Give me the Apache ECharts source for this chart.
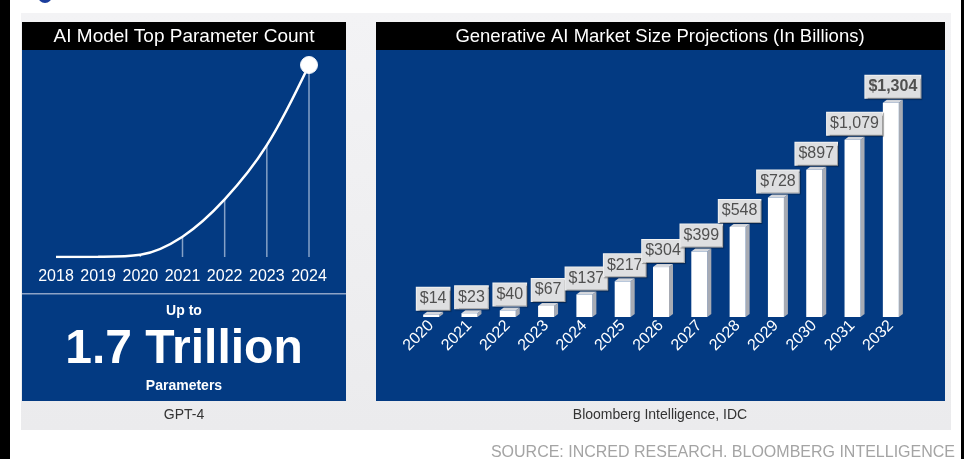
<!DOCTYPE html>
<html>
<head>
<meta charset="utf-8">
<script src="https://cdn.jsdelivr.net/npm/echarts@6/dist/echarts.min.js"></script>
<style>
  html, body { margin: 0; padding: 0; background: #ffffff; }
  #chart { width: 968px; height: 459px; }
</style>
</head>
<body>
<div id="chart"></div>
<script>
// Largest model size per year (billions of parameters)
const paramYears = ['2018', '2019', '2020', '2021', '2022', '2023', '2024'];
const paramBillions = [0.1, 1.5, 20, 180, 510, 990, 1700];

// Generative AI market size projections (US$ billions)
const marketYears = ['2020', '2021', '2022', '2023', '2024', '2025', '2026',
                     '2027', '2028', '2029', '2030', '2031', '2032'];
const marketSize = [14, 23, 40, 67, 137, 217, 304, 399, 548, 728, 897, 1079, 1304];

const FONT = '"Liberation Sans", Arial, Helvetica, sans-serif';
const BLUE = '#033a82';

const chart = echarts.init(document.getElementById('chart'), null, { renderer: 'canvas' });

// Side face and top cap that give each market bar its block look
function renderBlock(params, api) {
  const base = api.coord([api.value(0), 0]);
  const top = api.coord([api.value(0), api.value(1)]);
  const hw = 8, depth = 4, rise = 3;
  const x0 = top[0] - hw, x1 = top[0] + hw;
  return {
    type: 'group',
    children: [
      { type: 'polygon',
        shape: { points: [[x1, top[1]], [x1 + depth, top[1] - rise], [x1 + depth, base[1] - rise], [x1, base[1]]] },
        style: { fill: '#a7abb4' } },
      { type: 'polygon',
        shape: { points: [[x0, top[1]], [x0 + depth, top[1] - rise], [x1 + depth, top[1] - rise], [x1, top[1]]] },
        style: { fill: '#d6d9df' } }
    ]
  };
}

const graphics = [
  // page frame
  { type: 'rect', z: -20, shape: { x: 0, y: 0, width: 10, height: 459 }, style: { fill: '#000' } },
  { type: 'rect', z: -20, shape: { x: 961, y: 0, width: 3, height: 459 }, style: { fill: '#000' } },
  { type: 'circle', z: -20, shape: { cx: 45, cy: -4, r: 7 }, style: { fill: '#1b3d9c' } },
  // light card behind both panels
  { type: 'rect', z: -20, shape: { x: 21, y: 13, width: 930, height: 417 },
    style: { fill: new echarts.graphic.LinearGradient(0, 0, 0, 1, [
      { offset: 0, color: '#f3f3f5' }, { offset: 1, color: '#ebebed' }]) } },
  // left panel
  { type: 'rect', z: -10, shape: { x: 22, y: 22, width: 324, height: 28 }, style: { fill: '#000' } },
  { type: 'rect', z: -10, shape: { x: 22, y: 50, width: 324, height: 351 }, style: { fill: BLUE } },
  { type: 'rect', z: -9, shape: { x: 22, y: 293, width: 324, height: 1.5 }, style: { fill: '#8ea3c6' } },
  // right panel
  { type: 'rect', z: -10, shape: { x: 376, y: 22, width: 569, height: 28 }, style: { fill: '#000' } },
  { type: 'rect', z: -10, shape: { x: 376, y: 50, width: 569, height: 351 }, style: { fill: BLUE } },
  // titles and captions
  { type: 'text', z: 50, x: 184, y: 37,
    style: { text: 'AI Model Top Parameter Count', fill: '#fff', font: '19px ' + FONT,
             textAlign: 'center', textVerticalAlign: 'middle' } },
  { type: 'text', z: 50, x: 660, y: 37,
    style: { text: 'Generative AI Market Size Projections (In Billions)', fill: '#fff', font: '18.5px ' + FONT,
             textAlign: 'center', textVerticalAlign: 'middle' } },
  { type: 'text', z: 50, x: 184, y: 311,
    style: { text: 'Up to', fill: '#fff', font: 'bold 14px ' + FONT,
             textAlign: 'center', textVerticalAlign: 'middle' } },
  { type: 'text', z: 50, x: 184, y: 350,
    style: { text: '1.7 Trillion', fill: '#fff', font: 'bold 48px ' + FONT,
             textAlign: 'center', textVerticalAlign: 'middle' } },
  { type: 'text', z: 50, x: 184, y: 386,
    style: { text: 'Parameters', fill: '#fff', font: 'bold 14px ' + FONT,
             textAlign: 'center', textVerticalAlign: 'middle' } },
  { type: 'text', z: 50, x: 184, y: 415,
    style: { text: 'GPT-4', fill: '#333', font: '14px ' + FONT,
             textAlign: 'center', textVerticalAlign: 'middle' } },
  { type: 'text', z: 50, x: 660, y: 415,
    style: { text: 'Bloomberg Intelligence, IDC', fill: '#333', font: '14px ' + FONT,
             textAlign: 'center', textVerticalAlign: 'middle' } },
  { type: 'text', z: 50, x: 955, y: 453,
    style: { text: 'SOURCE: INCRED RESEARCH. BLOOMBERG INTELLIGENCE', fill: '#a4a4a4', font: '16px ' + FONT,
             textAlign: 'right', textVerticalAlign: 'middle' } }
];

const option = {
  animation: false,
  backgroundColor: '#ffffff',
  graphic: graphics,
  grid: [
    { left: 56, right: 659, top: 65, bottom: 202 },
    { left: 412, right: 58, top: 87, bottom: 142 }
  ],
  xAxis: [
    { type: 'category', gridIndex: 0, data: paramYears, boundaryGap: false,
      axisLine: { show: false }, axisTick: { show: false }, splitLine: { show: false },
      axisLabel: { color: '#fff', fontSize: 16, fontFamily: FONT, margin: 12, interval: 0 } },
    { type: 'category', gridIndex: 1, data: marketYears,
      axisLine: { show: false }, axisTick: { show: false }, splitLine: { show: false },
      axisLabel: { color: '#fff', fontSize: 16, fontFamily: FONT, margin: 6, rotate: 45, interval: 0 } }
  ],
  yAxis: [
    { type: 'value', gridIndex: 0, min: 0, max: 1700, show: false },
    { type: 'value', gridIndex: 1, min: 0, max: 1400, show: false }
  ],
  series: [
    // thin drop lines under each point
    { type: 'bar', xAxisIndex: 0, yAxisIndex: 0, data: paramBillions, barWidth: 1.5, z: 1,
      itemStyle: { color: 'rgba(220,230,245,0.6)' } },
    { type: 'line', xAxisIndex: 0, yAxisIndex: 0, data: paramBillions, z: 3,
      smooth: 0.35,
      symbol: 'circle', showAllSymbol: true,
      symbolSize: (v, p) => (p.dataIndex === paramBillions.length - 1 ? 17 : 0),
      lineStyle: { color: '#fff', width: 2.5 },
      itemStyle: { color: '#fff', borderColor: '#eef2f8', borderWidth: 1 } },
    { type: 'custom', xAxisIndex: 1, yAxisIndex: 1, z: 2,
      data: marketYears.map((y, i) => [i, marketSize[i]]),
      encode: { x: 0, y: 1 },
      renderItem: renderBlock },
    { type: 'bar', xAxisIndex: 1, yAxisIndex: 1, data: marketSize, barWidth: 16, z: 3,
      itemStyle: { color: '#ffffff' },
      label: {
        show: true, position: 'top', distance: 5, offset: [2, 0],
        formatter: p => '$' + p.value.toLocaleString('en-US'),
        color: '#505050', fontSize: 16, fontFamily: FONT,
        fontWeight: 'normal',
        backgroundColor: '#dedfe1', borderColor: '#f2f2f2', borderWidth: 1,
        padding: [2, 3], lineHeight: 18,
        shadowColor: 'rgba(0,0,0,0.35)', shadowOffsetX: 1, shadowOffsetY: 1, shadowBlur: 1
      }
    }
  ]
};

// the 2032 figure is set in bold
option.series[3].data = marketSize.map((v, i) =>
  i === marketSize.length - 1 ? { value: v, label: { fontWeight: 'bold' } } : v);

chart.setOption(option);
</script>
</body>
</html>
